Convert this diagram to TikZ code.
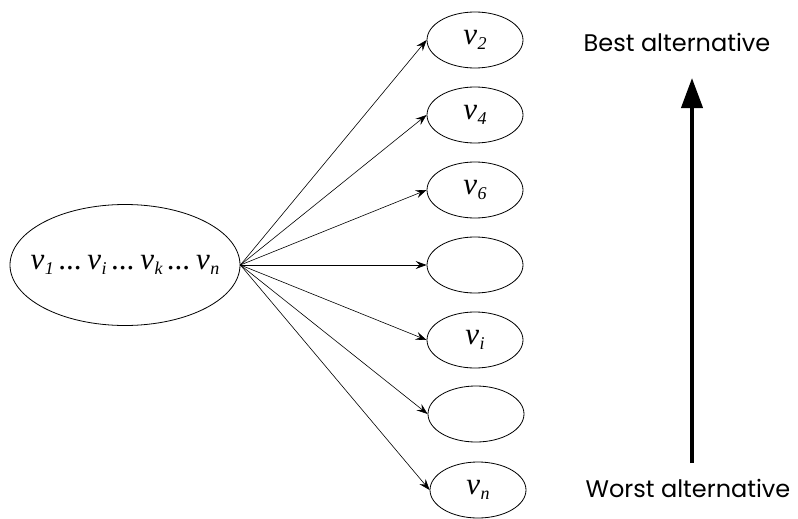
\documentclass[tikz,border=0pt]{standalone}
\usepackage{fontspec}
\setmainfont{Poppins}
\newfontfamily\tms{Liberation Serif}
\usetikzlibrary{shapes.geometric,arrows.meta}
\newcommand{\vsub}[1]{{\tms\itshape v\kern0.5pt\raisebox{-0.35ex}{\fontsize{18}{18}\selectfont #1}}}
\tikzset{
  bigell/.style={draw, ellipse, line width=0.8pt, minimum width=230pt, minimum height=121pt, inner sep=0pt},
  smallell/.style={draw, ellipse, line width=0.8pt, minimum width=96pt, minimum height=56pt, inner sep=0pt},
  conn/.style={line width=0.6pt, -{Stealth[length=11pt,width=8pt,inset=4pt]}},
  lbl/.style={font=\fontsize{24}{28}\selectfont, inner sep=0pt},
  mth/.style={font=\fontsize{31}{34}\selectfont}
}
\begin{document}
\begin{tikzpicture}[x=1pt,y=-1pt]
\useasboundingbox (0,0) rectangle (798,519);
\node[bigell] (big) at (125,265) {};
\node[mth, inner sep=0pt] (bigtext) at (big.center) {\vsub{1}\,{\tms\itshape ...}\,\vsub{i}\,{\tms\itshape ...}\,\vsub{k}\,{\tms\itshape ...}\,\vsub{n}};
\node[smallell, mth] (a) at (475,40) {\vsub{2}};
\node[smallell, mth] (b) at (475,115) {\vsub{4}};
\node[smallell, mth] (c) at (475,190) {\vsub{6}};
\node[smallell] (d) at (475,265) {};
\node[smallell, mth] (e) at (475,340) {\vsub{i}};
\node[smallell] (f) at (476,414) {};
\node[smallell, mth] (g) at (478,490) {\vsub{n}};
\foreach \t in {a,b,c,d,e,f,g} \draw[conn] (big.east) -- (\t.west);
\node[lbl] (best) at (677,42) {Best alternative};
\node[lbl] (worst) at (688,488) {Worst alternative};
\coordinate (vb) at (692,463);
\coordinate (vt) at (692,78);
\draw[line width=4pt, -{Triangle[length=30pt,width=21pt]}] (vb) -- (vt);
\end{tikzpicture}
\end{document}
